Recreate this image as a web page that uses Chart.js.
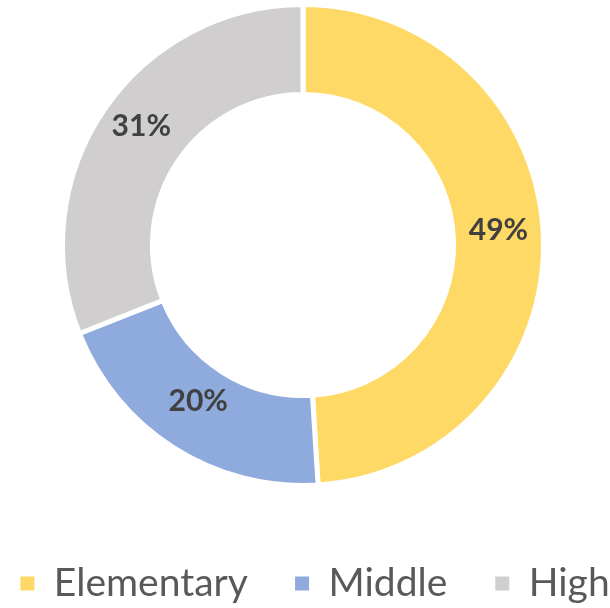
<!DOCTYPE html>
<html lang="en">
<head>
  <meta charset="UTF-8">
  <title>School Levels</title>
  <script src="https://cdn.jsdelivr.net/npm/chart.js"></script>
  <style>
    html, body { margin: 0; padding: 0; background: #fff; }
    #wrap { width: 610px; height: 608px; }
  </style>
</head>
<body>
  <div id="wrap"><canvas id="levelChart" width="610" height="608"></canvas></div>

  <script>
    const levels = ['Elementary', 'Middle', 'High'];
    const shares = [49, 20, 31];
    const colors = ['#FFD966', '#8FAADC', '#D0CECE'];
    // extra blank after each legend entry, to widen the gaps between entries
    const legendGaps = ['\u2003', '   ', ''];

    // percent labels drawn in the middle of each ring segment
    const sliceLabels = {
      id: 'sliceLabels',
      afterDatasetsDraw(chart) {
        const ctx = chart.ctx;
        const meta = chart.getDatasetMeta(0);
        ctx.save();
        ctx.font = 'bold 30px Lato';
        ctx.fillStyle = '#404040';
        ctx.textAlign = 'center';
        ctx.textBaseline = 'middle';
        meta.data.forEach((arc, i) => {
          const p = arc.tooltipPosition();
          ctx.fillText(shares[i] + '%', p.x, p.y - 9);
        });
        ctx.restore();
      }
    };

    // nudge the legend row to the right, the ring stays put
    const legendShift = {
      id: 'legendShift',
      afterLayout(chart) {
        chart.legend.left += 27;
        chart.legend.right += 27;
      }
    };

    new Chart(document.getElementById('levelChart'), {
      type: 'doughnut',
      data: {
        labels: levels,
        datasets: [{
          data: shares,
          backgroundColor: colors,
          borderColor: '#ffffff',
          borderWidth: 5,
          radius: 240.5,
          hoverOffset: 0,
          clip: false
        }]
      },
      options: {
        responsive: false,
        animation: false,
        cutout: '62.6%',
        layout: { padding: { top: 8, bottom: -5, left: -30, right: 4 } },
        plugins: {
          tooltip: { enabled: false },
          legend: {
            position: 'bottom',
            // empty title only reserves the white band above the legend row
            title: { display: true, text: ' ', font: { size: 10 }, padding: { top: 0, bottom: 52 } },
            labels: {
              boxWidth: 14,
              boxHeight: 14,
              padding: 18,
              color: '#595959',
              font: { family: 'Lato', size: 39 },
              generateLabels(chart) {
                return levels.map((name, i) => ({
                  text: name + legendGaps[i],
                  fillStyle: colors[i],
                  strokeStyle: colors[i],
                  lineWidth: 0,
                  fontColor: '#595959',
                  hidden: false,
                  index: i
                }));
              }
            }
          }
        }
      },
      plugins: [sliceLabels, legendShift]
    });
  </script>
</body>
</html>
